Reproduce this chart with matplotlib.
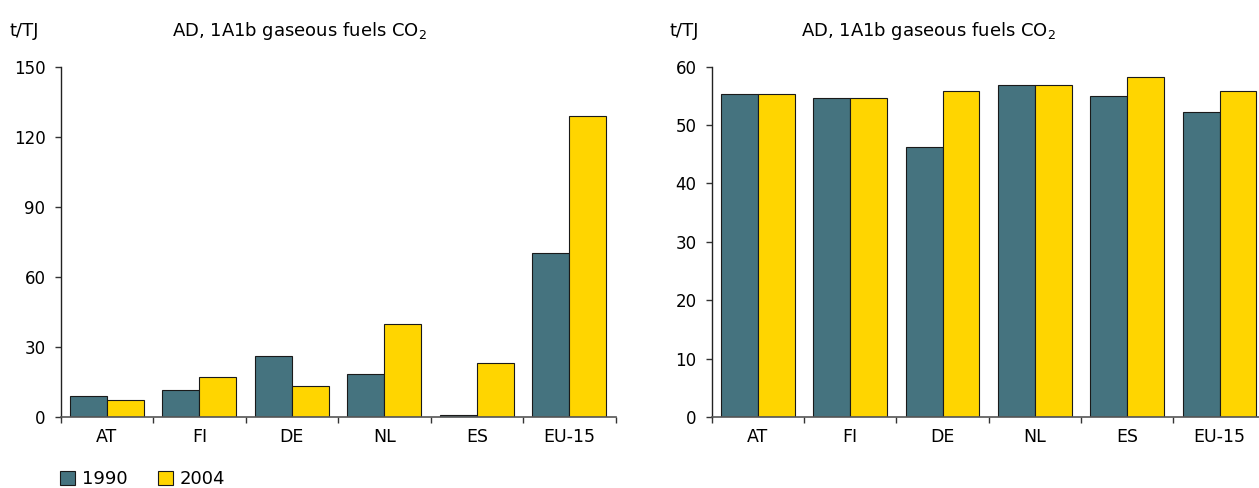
import matplotlib
matplotlib.use("Agg")
import matplotlib.pyplot as plt
import numpy as np
from matplotlib.patches import Patch

countries = ["AT", "FI", "DE", "NL", "ES", "EU-15"]
left_1990 = [9.0, 11.7, 26.0, 18.4, 0.7, 70.4]
left_2004 = [7.3, 17.1, 13.1, 39.8, 23.0, 128.9]
right_1990 = [55.4, 54.7, 46.3, 56.8, 54.9, 52.3]
right_2004 = [55.4, 54.7, 55.9, 56.8, 58.2, 55.8]
left_yticks = [0, 30, 60, 90, 120, 150]
right_yticks = [0, 10, 20, 30, 40, 50, 60]
series_labels = ["1990", "2004"]
unit = "t/TJ"
title = r"AD, 1A1b gaseous fuels CO$_\mathregular{2}$"

C1990 = "#45737F"
C2004 = "#FFD500"
FS = 12

plt.rcParams["font.family"] = ["DejaVu Sans"]
plt.rcParams["font.size"] = FS

W, H = 1259, 488
fig = plt.figure(figsize=(W / 100, H / 100), dpi=100)

def px_axes(x0, x1, ytop, ybot):
    return fig.add_axes([x0 / W, (H - ybot) / H, (x1 - x0) / W, (ybot - ytop) / H])

axL = px_axes(60.7, 615.5, 66.7, 417.0)
axR = px_axes(711.7, 1265.7, 66.7, 417.0)

def draw(ax, v1, v2, yticks):
    x = np.arange(len(countries))
    w = 0.4
    ax.bar(x - w / 2, v1, w, color=C1990, edgecolor="#1a1a1a", linewidth=0.8)
    ax.bar(x + w / 2, v2, w, color=C2004, edgecolor="#1a1a1a", linewidth=0.8)
    ax.set_xlim(-0.5, len(countries) - 0.5)
    ax.set_ylim(yticks[0], yticks[-1])
    ax.set_yticks(yticks)
    ax.set_yticklabels([str(t) for t in yticks])
    ax.set_xticks(np.arange(len(countries) + 1) - 0.5)
    ax.set_xticklabels([])
    ax.set_xticks(x, minor=True)
    ax.set_xticklabels(countries, minor=True)
    ax.tick_params(axis="x", which="major", direction="out", length=4, width=1, color="#333333")
    ax.tick_params(axis="x", which="minor", length=0, pad=8, labelsize=12.5)
    ax.tick_params(axis="y", direction="out", length=4, width=1, pad=7, labelsize=FS, color="#333333")
    for s in ["top", "right"]:
        ax.spines[s].set_visible(False)
    ax.spines["left"].set_color("#222222")
    ax.spines["bottom"].set_color("#555555")
    ax.spines["left"].set_linewidth(1)
    ax.spines["bottom"].set_linewidth(1.2)

draw(axL, left_1990, left_2004, left_yticks)
draw(axR, right_1990, right_2004, right_yticks)

TFS = 13
fig.text(10 / W, 1 - 31 / H, unit, ha="left", va="center", fontsize=TFS)
fig.text(172 / W, 1 - 31 / H, title, ha="left", va="center", fontsize=TFS)
fig.text(670 / W, 1 - 31 / H, unit, ha="left", va="center", fontsize=TFS)
fig.text(801 / W, 1 - 31 / H, title, ha="left", va="center", fontsize=TFS)

handles = [Patch(facecolor=C1990, edgecolor="#1a1a1a", linewidth=0.8),
           Patch(facecolor=C2004, edgecolor="#1a1a1a", linewidth=0.8)]
fig.legend(handles, series_labels, loc="center left", bbox_to_anchor=(60 / W, (H - 479) / H),
           ncol=2, frameon=False, fontsize=13, handlelength=0.85, handleheight=0.85,
           handletextpad=0.35, columnspacing=1.7, borderaxespad=0, borderpad=0)

fig.savefig("out.png", dpi=100)
